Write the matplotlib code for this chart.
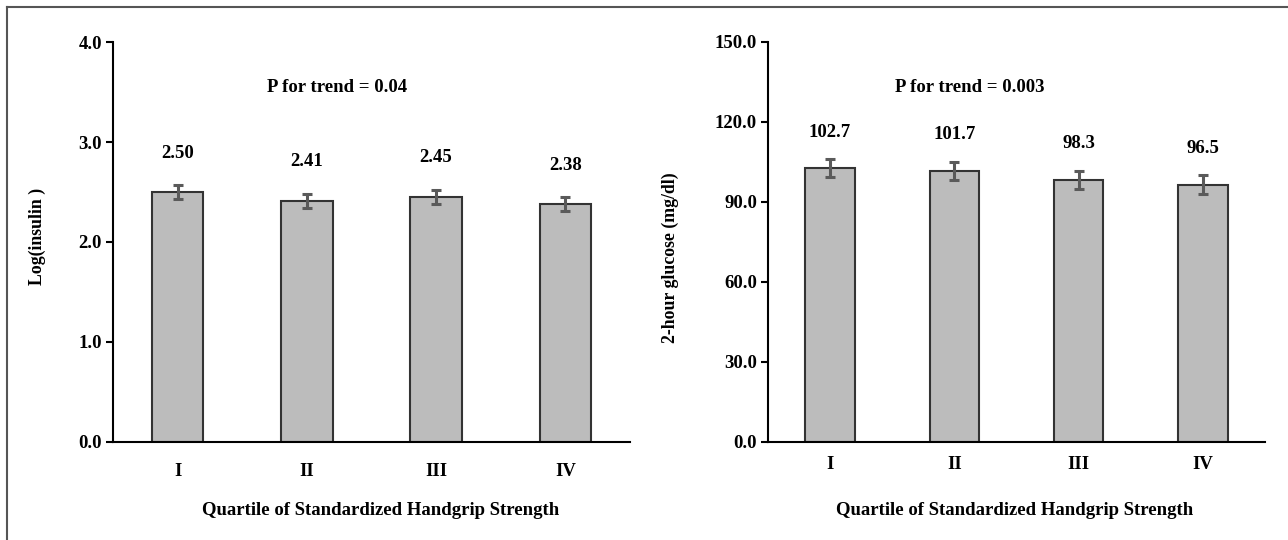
import matplotlib.pyplot as plt
from matplotlib.lines import Line2D

# Данні з рисунка
quartiles = ["I", "II", "III", "IV"]
insulin = [2.50, 2.41, 2.45, 2.38]
insulin_err = [0.07, 0.07, 0.07, 0.07]
insulin_labels = ["2.50", "2.41", "2.45", "2.38"]
glucose = [102.7, 101.7, 98.3, 96.5]
glucose_err = [3.5, 3.4, 3.4, 3.5]
glucose_labels = ["102.7", "101.7", "98.3", "96.5"]

plt.rcParams['font.family'] = ['Liberation Serif', 'DejaVu Serif']
plt.rcParams['font.weight'] = 'bold'

FS = 13.5

fig = plt.figure(figsize=(12.88, 5.4), dpi=100)

# рамка зліва та зверху
fig.add_artist(Line2D([7 / 1288, 7 / 1288], [0, 1 - 7 / 540], color='#555555', lw=1.5))
fig.add_artist(Line2D([7 / 1288, 1], [1 - 7 / 540, 1 - 7 / 540], color='#555555', lw=1.5))

ax1 = fig.add_axes([113 / 1288, 98 / 540, 517 / 1288, 400 / 540])
ax2 = fig.add_axes([768 / 1288, 98 / 540, 497 / 1288, 400 / 540])


def draw(ax, vals, errs, labels, ymax, step, offset, ptext, p_x, p_y,
         ylabel, ylab_x, ylab_y, xlab_x, xtick_pad):
    x = range(len(vals))
    ax.bar(x, vals, width=0.40, color='#bcbcbc', edgecolor='#333333', linewidth=1.5, zorder=2)
    ax.errorbar(x, vals, yerr=errs, fmt='none', ecolor='#5a5a5a', elinewidth=2.2,
                capsize=3.5, capthick=2.2, zorder=3)
    for xi, v, lab in zip(x, vals, labels):
        ax.text(xi, v + offset, lab, ha='center', va='center', fontsize=FS, fontweight='bold')
    ax.text(p_x, p_y, ptext, ha='center', va='center', fontsize=FS, fontweight='bold')
    ax.set_xlim(-0.5, 3.5)
    ax.set_ylim(0, ymax)
    ticks = [i * step for i in range(int(round(ymax / step)) + 1)]
    ax.set_yticks(ticks)
    ax.set_yticklabels(["{:.1f}".format(t) for t in ticks], fontsize=FS, fontweight='bold')
    ax.set_xticks(list(x))
    ax.set_xticklabels(quartiles, fontsize=FS, fontweight='bold')
    ax.tick_params(axis='x', length=0, pad=xtick_pad)
    ax.tick_params(axis='y', length=5, width=1.5, direction='out', pad=3)
    for s in ['top', 'right']:
        ax.spines[s].set_visible(False)
    for s in ['left', 'bottom']:
        ax.spines[s].set_linewidth(1.5)
    ax.set_xlabel("Quartile of Standardized Handgrip Strength", fontsize=FS,
                  fontweight='bold')
    ax.xaxis.set_label_coords(xlab_x, -0.15)
    ax.set_ylabel(ylabel, fontsize=12.8, fontweight='bold')
    ax.yaxis.set_label_coords(ylab_x, ylab_y)


draw(ax1, insulin, insulin_err, insulin_labels, 4.0, 1.0, 0.39,
     "P for trend = 0.04", 1.23, 3.55, "Log(insulin )", -0.13, 0.515, 0.518, 15)
draw(ax2, glucose, glucose_err, glucose_labels, 150.0, 30.0, 13.5,
     "P for trend = 0.003", 1.12, 133, "2-hour glucose (mg/dl)", -0.18, 0.46, 0.496, 10)

fig.savefig("out.png", dpi=100)
